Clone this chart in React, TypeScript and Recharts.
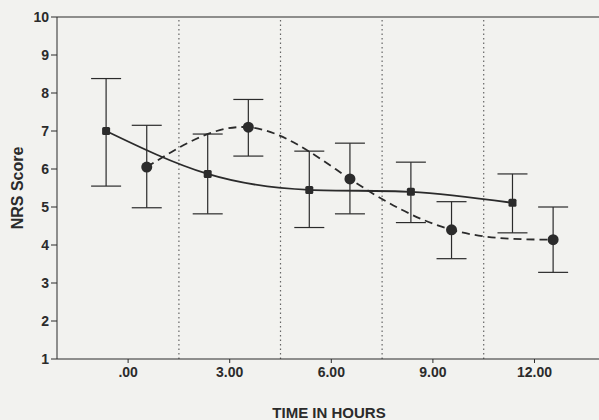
import React from "react";
import {
  ComposedChart,
  Line,
  XAxis,
  YAxis,
  ErrorBar,
  ReferenceLine,
} from "recharts";

const hours = [0, 3, 6, 9, 12];
const hourTicks = [".00", "3.00", "6.00", "9.00", "12.00"];
const yTicks = [1, 2, 3, 4, 5, 6, 7, 8, 9, 10];
const dividers = [1.5, 4.5, 7.5, 10.5];

// group A (solid line, square markers)
const solidMean = [7.0, 5.87, 5.45, 5.4, 5.11];
const solidLow = [5.55, 4.82, 4.46, 4.59, 4.32];
const solidHigh = [8.38, 6.92, 6.47, 6.18, 5.87];

// group B (dashed line, round markers)
const dashedMean = [6.05, 7.1, 5.74, 4.4, 4.14];
const dashedLow = [4.98, 6.34, 4.82, 3.64, 3.28];
const dashedHigh = [7.15, 7.83, 6.68, 5.14, 5.0];

const SHIFT_A = -0.65;
const SHIFT_B = 0.55;

const build = (mean: number[], low: number[], high: number[], shift: number) =>
  hours.map((h, i) => ({
    x: h + shift,
    y: mean[i],
    err: [mean[i] - low[i], high[i] - mean[i]],
  }));

const solidData = build(solidMean, solidLow, solidHigh, SHIFT_A);
const dashedData = build(dashedMean, dashedLow, dashedHigh, SHIFT_B);

const INK = "#2b2b2b";
const FONT = "'Liberation Sans', Arial, sans-serif";

const SquareDot = (props: any) => {
  const { cx, cy, index } = props;
  if (cx == null || cy == null) return null;
  return <rect key={`sq-${index}`} x={cx - 4} y={cy - 4} width={8} height={8} rx={1.5} fill={INK} />;
};

const RoundDot = (props: any) => {
  const { cx, cy, index } = props;
  if (cx == null || cy == null) return null;
  return <circle key={`rd-${index}`} cx={cx} cy={cy} r={5.5} fill={INK} />;
};

export default function App() {
  return (
    <div
      style={{
        position: "fixed",
        left: 0,
        top: 0,
        width: 599,
        height: 420,
        overflow: "hidden",
        background: "#f2f2ef",
      }}
    >
      <ComposedChart
        width={640}
        height={420}
        margin={{ top: 17, right: 31, bottom: 31, left: 12 }}
      >
        <XAxis
          type="number"
          dataKey="x"
          domain={[-2.1, 14.2]}
          allowDataOverflow
          ticks={hours}
          tickFormatter={(v: number) => hourTicks[hours.indexOf(v)] ?? ""}
          height={30}
          tickSize={4}
          tickMargin={4}
          stroke={INK}
          tick={{ fill: INK, fontSize: 14, fontWeight: 700, fontFamily: FONT }}
          label={{
            value: "TIME IN HOURS",
            position: "bottom",
            offset: 18,
            dx: -4,
            fill: INK,
            fontSize: 15,
            fontWeight: 700,
            fontFamily: FONT,
          }}
        />
        <YAxis
          type="number"
          domain={[1, 10]}
          ticks={yTicks}
          width={45}
          tickSize={6}
          tickMargin={2}
          stroke={INK}
          tick={{ fill: INK, fontSize: 14, fontWeight: 700, fontFamily: FONT }}
          label={{
            value: "NRS Score",
            angle: -90,
            position: "insideLeft",
            offset: 5,
            fill: INK,
            fontSize: 16,
            fontWeight: 700,
            fontFamily: FONT,
            style: { textAnchor: "middle" },
          }}
        />
        <ReferenceLine y={10} stroke={INK} strokeWidth={1.2} ifOverflow="extendDomain" />
        {dividers.map((d) => (
          <ReferenceLine key={d} x={d} stroke="#666" strokeDasharray="1.5 3" strokeWidth={1.2} />
        ))}
        <Line
          data={solidData}
          dataKey="y"
          type="natural"
          stroke={INK}
          strokeWidth={1.8}
          dot={SquareDot}
          activeDot={false}
          isAnimationActive={false}
        >
          <ErrorBar dataKey="err" direction="y" width={15} stroke={INK} strokeWidth={1.2} />
        </Line>
        <Line
          data={dashedData}
          dataKey="y"
          type="natural"
          stroke={INK}
          strokeWidth={1.8}
          strokeDasharray="8 5"
          dot={RoundDot}
          activeDot={false}
          isAnimationActive={false}
        >
          <ErrorBar dataKey="err" direction="y" width={15} stroke={INK} strokeWidth={1.2} />
        </Line>
      </ComposedChart>
    </div>
  );
}
